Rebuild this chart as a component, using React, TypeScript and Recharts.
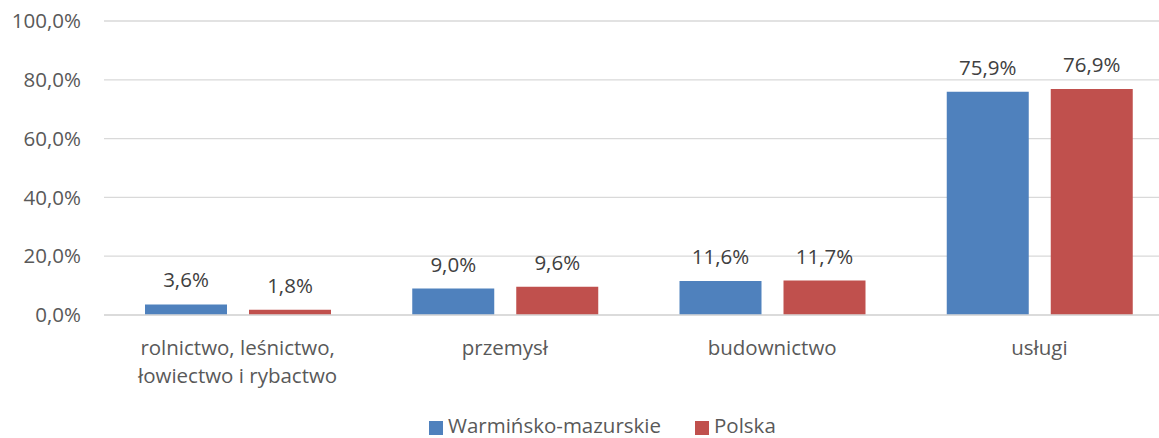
import React from "react";
import { BarChart, Bar, XAxis, YAxis, CartesianGrid, LabelList } from "recharts";

const categories = [
  "rolnictwo, leśnictwo,\nłowiectwo i rybactwo",
  "przemysł",
  "budownictwo",
  "usługi",
];
const warminskoMazurskie = [3.6, 9.0, 11.6, 75.9];
const polska = [1.8, 9.6, 11.7, 76.9];
const yTicks = [0, 20, 40, 60, 80, 100];
const seriesNames = ["Warmińsko-mazurskie", "Polska"];
const seriesColors = ["#4F81BD", "#C0504D"];

const data = categories.map((name, i) => ({
  name,
  wm: warminskoMazurskie[i],
  pl: polska[i],
}));

const FONT = "'Open Sans', 'Noto Sans', sans-serif";
const fmt = (v: number) => `${v.toFixed(1).replace(".", ",")}%`;

const CategoryTick = ({ x, y, payload }: any) => {
  const lines = String(payload.value).split("\n");
  return (
    <text x={x} y={y + 32} textAnchor="middle" fill="#595959" fontSize={20.5} fontFamily={FONT}>
      {lines.map((line, i) => (
        <tspan key={i} x={x} dy={i === 0 ? 0 : 28}>
          {line}
        </tspan>
      ))}
    </text>
  );
};

export default function App() {
  return (
    <div
      style={{
        position: "absolute",
        left: 0,
        top: 0,
        width: 1159,
        height: 438,
        overflow: "hidden",
        background: "#fff",
        fontFamily: FONT,
      }}
    >
      <BarChart
        width={1180}
        height={438}
        data={data}
        margin={{ top: 21, right: 7, left: 0, bottom: 53 }}
        barSize={82}
        barGap={22}
      >
        <CartesianGrid vertical={false} stroke="#d9d9d9" strokeWidth={1.3} />
        <XAxis
          dataKey="name"
          height={70}
          tickLine={false}
          axisLine={{ stroke: "#d9d9d9", strokeWidth: 1.3 }}
          tick={<CategoryTick />}
          interval={0}
        />
        <YAxis
          width={104}
          domain={[0, 100]}
          ticks={yTicks}
          tickFormatter={fmt}
          tickLine={false}
          axisLine={false}
          tickMargin={17}
          tick={{ fill: "#595959", fontSize: 20.5, fontFamily: FONT }}
        />
        <Bar dataKey="wm" fill={seriesColors[0]} isAnimationActive={false}>
          <LabelList
            dataKey="wm"
            position="top"
            offset={17}
            formatter={(v: any) => fmt(Number(v))}
            style={{ fill: "#404040", fontSize: 20.5, fontFamily: FONT }}
          />
        </Bar>
        <Bar dataKey="pl" fill={seriesColors[1]} isAnimationActive={false}>
          <LabelList
            dataKey="pl"
            position="top"
            offset={17}
            formatter={(v: any) => fmt(Number(v))}
            style={{ fill: "#404040", fontSize: 20.5, fontFamily: FONT }}
          />
        </Bar>
      </BarChart>
      <svg
        width={1159}
        height={42}
        style={{ position: "absolute", left: 0, top: 396 }}
      >
        <rect x={429} y={25} width={14} height={14} fill={seriesColors[0]} />
        <text x={448} y={37} fill="#595959" fontSize={20.5} fontFamily={FONT}>
          {seriesNames[0]}
        </text>
        <rect x={695} y={25} width={14} height={14} fill={seriesColors[1]} />
        <text x={714} y={37} fill="#595959" fontSize={20.5} fontFamily={FONT}>
          {seriesNames[1]}
        </text>
      </svg>
    </div>
  );
}
